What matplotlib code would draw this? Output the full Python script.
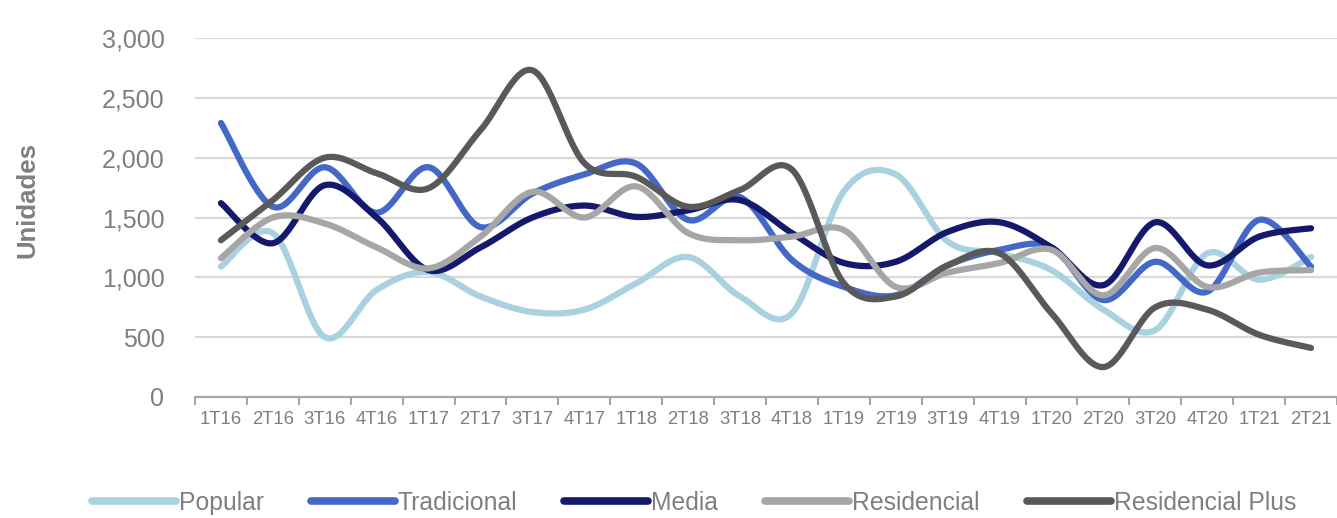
import numpy as np
import matplotlib
matplotlib.use("Agg")
import matplotlib.pyplot as plt

plt.rcParams['font.family'] = ['Liberation Sans', 'DejaVu Sans']

quarters = ["1T16", "2T16", "3T16", "4T16", "1T17", "2T17", "3T17", "4T17", "1T18", "2T18", "3T18",
            "4T18", "1T19", "2T19", "3T19", "4T19", "1T20", "2T20", "3T20", "4T20", "1T21", "2T21"]
popular = [1090, 1370, 500, 895, 1045, 840, 710, 730, 950, 1170, 840, 700, 1720, 1860, 1300, 1200,
           1060, 730, 560, 1200, 980, 1170]
tradicional = [2290, 1590, 1920, 1540, 1920, 1420, 1700, 1860, 1950, 1480, 1670, 1145, 920, 850, 1100,
               1230, 1250, 810, 1130, 880, 1480, 1090]
media = [1620, 1285, 1770, 1500, 1060, 1250, 1500, 1600, 1505, 1560, 1645, 1370, 1120, 1130, 1380, 1460,
         1250, 935, 1460, 1100, 1340, 1410]
residencial = [1160, 1500, 1450, 1250, 1075, 1340, 1715, 1500, 1760, 1370, 1310, 1340, 1395, 920, 1040,
               1120, 1230, 850, 1245, 920, 1040, 1060]
residencial_plus = [1310, 1645, 2000, 1870, 1745, 2230, 2730, 1955, 1840, 1590, 1730, 1900, 950, 840, 1100,
                    1200, 700, 250, 750, 730, 520, 410]

series = [
    ("Popular", popular, "#a9d1df"),
    ("Tradicional", tradicional, "#4468c6"),
    ("Media", media, "#15196b"),
    ("Residencial", residencial, "#a6a6a6"),
    ("Residencial Plus", residencial_plus, "#595959"),
]


def smooth(x, y, n=30):
    x = np.asarray(x, float)
    y = np.asarray(y, float)
    px = np.concatenate([[x[0]], x, [x[-1]]])
    py = np.concatenate([[y[0]], y, [y[-1]]])
    xs, ys = [], []
    t = np.linspace(0, 1, n, endpoint=False)
    for i in range(1, len(px) - 2):
        p0x, p1x, p2x, p3x = px[i - 1], px[i], px[i + 1], px[i + 2]
        p0y, p1y, p2y, p3y = py[i - 1], py[i], py[i + 1], py[i + 2]
        c1x, c1y = p1x + (p2x - p0x) / 6, p1y + (p2y - p0y) / 6
        c2x, c2y = p2x - (p3x - p1x) / 6, p2y - (p3y - p1y) / 6
        b0 = (1 - t) ** 3
        b1 = 3 * (1 - t) ** 2 * t
        b2 = 3 * (1 - t) * t ** 2
        b3 = t ** 3
        xs.append(b0 * p1x + b1 * c1x + b2 * c2x + b3 * p2x)
        ys.append(b0 * p1y + b1 * c1y + b2 * c2y + b3 * p2y)
    xs.append([x[-1]])
    ys.append([y[-1]])
    return np.concatenate(xs), np.concatenate(ys)


fig = plt.figure(figsize=(13.37, 5.18), dpi=100)
ax = fig.add_axes([195 / 1337, 1 - 397 / 518, 1 - 195 / 1337, (397 - 38) / 518])

xpos = np.arange(len(quarters))
for name, vals, col in series:
    sx, sy = smooth(xpos, vals)
    ax.plot(sx, sy, color=col, lw=4.5, solid_capstyle='round', label=name)

ax.set_xlim(-0.5, len(quarters) - 0.5)
ax.set_ylim(0, 3000)
yt = np.arange(0, 3001, 500)
ax.set_yticks(yt)
ax.set_yticklabels([f"{v:,}" for v in yt])
for v in yt[1:]:
    ax.axhline(v, color="#d9d9d9", lw=1.6, zorder=0)

ax.set_xticks(xpos)
ax.set_xticklabels(quarters)
ax.set_xticks(np.arange(-0.5, len(quarters) - 0.4, 1.0), minor=True)
ax.tick_params(axis='x', which='major', length=0, pad=10, labelsize=13.3, labelcolor="#7f7f7f")
ax.tick_params(axis='x', which='minor', length=6, width=1.5, color="#a6a6a6")
ax.tick_params(axis='y', length=0, pad=22, labelsize=18, labelcolor="#7f7f7f")

for s in ["top", "right", "left"]:
    ax.spines[s].set_visible(False)
ax.spines["bottom"].set_color("#a6a6a6")
ax.spines["bottom"].set_linewidth(1.6)

fig.text(28 / 1337, 1 - 200 / 518, "Unidades", rotation=90, ha="center", va="center",
         fontsize=18.5, fontweight="bold", color="#7f7f7f")

leg = fig.legend(loc="center", bbox_to_anchor=(694 / 1337, 1 - 503 / 518), ncol=5, frameon=False,
                 fontsize=17.8, handlelength=3.4, handletextpad=0.12, columnspacing=1.9)
for t in leg.get_texts():
    t.set_color("#7f7f7f")
for h in leg.get_lines():
    h.set_linewidth(5.5)
    h.set_solid_capstyle('round')

fig.savefig("out.png", dpi=100)
